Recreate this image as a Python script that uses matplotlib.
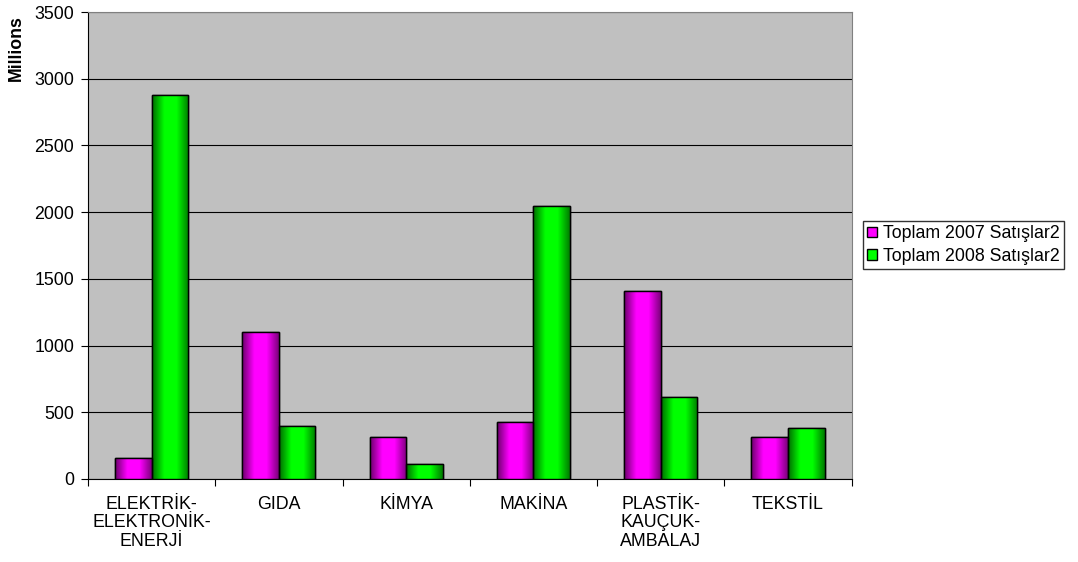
import numpy as np
import matplotlib
matplotlib.use("Agg")
import matplotlib.pyplot as plt
from matplotlib.colors import LinearSegmentedColormap

plt.rcParams['font.family'] = ['Liberation Sans', 'DejaVu Sans']

categories = ["ELEKTRİK-\nELEKTRONİK-\nENERJİ", "GIDA", "KİMYA", "MAKİNA",
              "PLASTİK-\nKAUÇUK-\nAMBALAJ", "TEKSTİL"]
sales_2007 = [155, 1105, 317, 425, 1410, 317]
sales_2008 = [2878, 400, 110, 2046, 615, 385]
series_names = ["Toplam 2007 Satışlar2", "Toplam 2008 Satışlar2"]
yticks = [0, 500, 1000, 1500, 2000, 2500, 3000, 3500]

fs = 12.8

fig = plt.figure(figsize=(10.78, 5.62), dpi=100)
ax = fig.add_axes([0.0816, 0.1477, 0.7084, 0.8309])
ax.set_facecolor('#C0C0C0')

# horizontal shading like the old excel bars
cmap_m = LinearSegmentedColormap.from_list("m", ["#6A006A", "#FF00FF", "#FF00FF", "#7A007A"])
cmap_g = LinearSegmentedColormap.from_list("g", ["#006A00", "#00FF00", "#00FF00", "#007A00"])
grad = np.linspace(0, 1, 256).reshape(1, -1)

x = np.arange(len(categories))
w = 0.287

for vals, off, col, cm, name in [(sales_2007, -w / 2, '#FF00FF', cmap_m, series_names[0]),
                                 (sales_2008, w / 2, '#00FF00', cmap_g, series_names[1])]:
    bars = ax.bar(x + off, vals, w, color=col, edgecolor='black', linewidth=1.0,
                  label=name, zorder=3)
    for b in bars:
        bx, by = b.get_x(), b.get_y()
        im = ax.imshow(grad, cmap=cm, aspect='auto', zorder=3.5,
                       extent=[bx, bx + b.get_width(), by, by + b.get_height()])
        im.set_clip_path(b)
        ax.bar(bx + b.get_width() / 2, b.get_height(), w, fill=False,
               edgecolor='black', linewidth=1.0, zorder=4)

ax.set_xlim(-0.5, len(categories) - 0.5)
ax.set_ylim(0, 3500)
ax.set_yticks(yticks)
ax.yaxis.grid(True, color='black', linewidth=0.8)
ax.set_axisbelow(True)
ax.tick_params(axis='y', labelsize=fs, length=5, width=0.8, pad=5)
ax.set_xticks(x)
ax.set_xticklabels(categories, fontsize=fs, linespacing=1.12)
ax.tick_params(axis='x', length=0, pad=12)
ax.set_xticks(np.arange(-0.5, len(categories)), minor=True)
ax.tick_params(axis='x', which='minor', length=5, width=0.8)

for s in ['top', 'right']:
    ax.spines[s].set_color('#808080')
for s in ['left', 'bottom']:
    ax.spines[s].set_color('black')
    ax.spines[s].set_linewidth(0.8)

fig.text(0.0155, 0.915, "Millions", rotation=90, fontsize=fs, fontweight='bold',
         ha='center', va='center')

handles, labels = ax.get_legend_handles_labels()
leg = fig.legend(handles, labels, loc='center left', bbox_to_anchor=(0.8006, 0.564),
                 fontsize=fs, frameon=True, fancybox=False, edgecolor='black',
                 handlelength=0.55, handleheight=0.55, handletextpad=0.3,
                 borderpad=0.25, labelspacing=0.3, borderaxespad=0)
leg.get_frame().set_linewidth(1.0)

fig.savefig("out.png", dpi=100)
